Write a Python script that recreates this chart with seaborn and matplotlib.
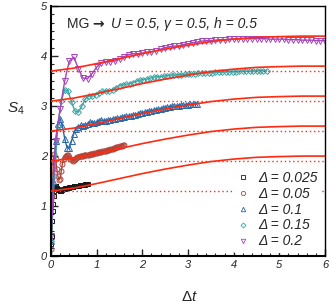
import numpy as np
import pandas as pd
import matplotlib
matplotlib.use("Agg")
import matplotlib.pyplot as plt
import seaborn as sns
from matplotlib.lines import Line2D
from matplotlib.ticker import MultipleLocator, AutoMinorLocator

sns.set_style("ticks")
plt.rcParams['font.family'] = ['Liberation Sans', 'DejaVu Sans']
plt.rcParams['mathtext.fontset'] = 'custom'
plt.rcParams['mathtext.rm'] = 'Liberation Sans'
plt.rcParams['mathtext.it'] = 'Liberation Sans:italic'

# ---------------- data ----------------
deltas = [0.025, 0.05, 0.1, 0.15, 0.2]
labels = ["Δ = 0.025", "Δ = 0.05", "Δ = 0.1", "Δ = 0.15", "Δ = 0.2"]
# time-step index grid (t in units of Δ), step 0.5
steps = np.arange(0, 32.5, 0.5)

s_0025 = [0.25, 0.40, 0.70, 0.90, 1.05, 1.20, 1.30, 1.38, 1.41, 1.40,
          1.37, 1.35, 1.34, 1.33, 1.32, 1.31, 1.30, 1.30, 1.31, 1.32,
          1.33, 1.34, 1.35, 1.35, 1.35, 1.36, 1.36, 1.36, 1.37, 1.37,
          1.37, 1.37, 1.38, 1.38, 1.38, 1.38, 1.39, 1.39, 1.39, 1.39,
          1.40, 1.40, 1.40, 1.40, 1.40, 1.41, 1.41, 1.41, 1.41, 1.41,
          1.42, 1.42, 1.42, 1.42, 1.42, 1.43, 1.43, 1.43, 1.43, 1.43,
          1.44, 1.44, 1.44, 1.44, 1.44]
s_005 = [0.15, 1.20, 1.90, 2.05, 1.95, 1.75, 1.60, 1.52, 1.55, 1.70,
         1.85, 1.95, 1.98, 2.00, 2.02, 2.02, 1.98, 1.94, 1.92, 1.91,
         1.92, 1.95, 1.97, 1.98, 1.99, 2.00, 2.00, 2.01, 2.01, 2.02,
         2.02, 2.03, 2.03, 2.03, 2.04, 2.04, 2.05, 2.05, 2.06, 2.06,
         2.07, 2.08, 2.08, 2.09, 2.09, 2.10, 2.10, 2.11, 2.11, 2.12,
         2.13, 2.13, 2.14, 2.15, 2.15, 2.16, 2.17, 2.18, 2.18, 2.19,
         2.20, 2.20, 2.21, 2.22, 2.22]
s_01 = [0.30, 1.50, 2.30, 2.65, 2.75, 2.60, 2.35, 2.17, 2.16, 2.30,
        2.45, 2.55, 2.59, 2.62, 2.60, 2.62, 2.65, 2.68, 2.67, 2.66,
        2.68, 2.70, 2.72, 2.71, 2.71, 2.72, 2.73, 2.74, 2.75, 2.76,
        2.77, 2.78, 2.79, 2.80, 2.80, 2.81, 2.82, 2.83, 2.85, 2.86,
        2.87, 2.88, 2.89, 2.90, 2.91, 2.92, 2.93, 2.94, 2.95, 2.96,
        2.97, 2.98, 2.99, 3.00, 3.00, 3.01, 3.01, 3.02, 3.02, 3.03,
        3.03, 3.04, 3.04, 3.05, 3.05]
s_015 = [0.30, 1.60, 2.60, 3.10, 3.33, 3.30, 3.08, 2.90, 2.88, 3.00,
         3.14, 3.20, 3.20, 3.22, 3.26, 3.30, 3.31, 3.31, 3.33, 3.37,
         3.41, 3.43, 3.44, 3.45, 3.47, 3.50, 3.52, 3.53, 3.54, 3.56,
         3.58, 3.59, 3.59, 3.60, 3.61, 3.62, 3.62, 3.63, 3.63, 3.64,
         3.64, 3.65, 3.65, 3.66, 3.66, 3.66, 3.67, 3.67, 3.68, 3.68,
         3.68, 3.69, 3.69, 3.69, 3.69, 3.70, 3.70, 3.70, 3.70, 3.71,
         3.71, 3.71, 3.71, 3.71]
s_02 = [0.40, 2.30, 2.95, 3.50, 3.90, 3.98, 3.75, 3.56, 3.55, 3.65,
        3.78, 3.86, 3.88, 3.89, 3.90, 3.94, 3.99, 4.03, 4.05, 4.05,
        4.06, 4.08, 4.09, 4.11, 4.14, 4.17, 4.19, 4.20, 4.21, 4.23,
        4.25, 4.27, 4.28, 4.30, 4.31, 4.31, 4.32, 4.33, 4.33, 4.34,
        4.34, 4.34, 4.35, 4.35, 4.35, 4.35, 4.35, 4.35, 4.34, 4.34,
        4.34, 4.34, 4.33, 4.33, 4.33, 4.32, 4.32, 4.32, 4.31, 4.31,
        4.31]
series = [s_0025, s_005, s_01, s_015, s_02]

# reference curves (solid red) and baselines (dotted red)
offsets = [1.3, 1.9, 2.5, 3.1, 3.7]
ref_t = [0, 0.5, 1.0, 1.5, 2.0, 2.5, 3.0, 3.5, 4.0, 4.5, 5.0, 5.5, 6.0]
ref_rise = [0, 0.06, 0.15, 0.25, 0.35, 0.44, 0.52, 0.59, 0.64, 0.675, 0.69, 0.70, 0.70]

colors = ["#1a1a1a", "#b2453a", "#2a68a8", "#3aa6a6", "#a645b8"]
markers = ["s", "o", "^", "D", "v"]
msizes = [3.4, 3.6, 3.8, 3.0, 3.8]
red = "#ff2a10"

# ---------------- figure ----------------
fig = plt.figure(figsize=(3.32, 3.07), dpi=100)
ax = fig.add_axes([0.1536, 0.166, 0.8254, 0.814])

for d, vals, c, m, ms in zip(deltas, series, colors, markers, msizes):
    df = pd.DataFrame({"x": steps[:len(vals)] * d, "y": vals})
    sns.lineplot(data=df, x="x", y="y", ax=ax, color=c, lw=1.0,
                 marker=m, markersize=ms, markerfacecolor="none",
                 markeredgecolor=c, markeredgewidth=0.7,
                 sort=False, estimator=None, legend=False)

for off in offsets:
    ax.axhline(off, color=red, lw=1.0, ls=(0, (1, 2)), zorder=3)
    dfr = pd.DataFrame({"x": ref_t, "y": [off + r for r in ref_rise]})
    sns.lineplot(data=dfr, x="x", y="y", ax=ax, color=red, lw=1.2,
                 sort=False, estimator=None, legend=False, zorder=4)

ax.set_xlim(0, 6)
ax.set_ylim(0, 5)
ax.xaxis.set_major_locator(MultipleLocator(1))
ax.xaxis.set_minor_locator(AutoMinorLocator(5))
ax.yaxis.set_major_locator(MultipleLocator(1))
ax.yaxis.set_minor_locator(AutoMinorLocator(6))
ax.tick_params(which="both", direction="in", top=False, right=False,
               labelsize=8, pad=3)
ax.tick_params(which="major", length=5, width=1.0)
ax.tick_params(which="minor", length=2.5, width=0.8)
for lab in ax.get_xticklabels() + ax.get_yticklabels():
    lab.set_fontstyle("italic")

for side in ["left", "bottom"]:
    ax.spines[side].set_linewidth(1.5)
for side in ["top", "right"]:
    ax.spines[side].set_linewidth(1.0)
for sp in ax.spines.values():
    sp.set_color("black")

ax.set_xlabel(r"$\Delta t$", fontsize=11)
ax.set_ylabel(r"$S_4$", fontsize=11, rotation=0)
ax.xaxis.set_label_coords(0.507, -0.136)
ax.yaxis.set_label_coords(-0.13, 0.556)

t1 = ax.text(0.057, 0.911, "MG ", transform=ax.transAxes, fontsize=10,
             va="baseline", ha="left")
t2 = ax.annotate("→ ", xy=(1, 0), xycoords=t1, va="bottom", ha="left",
                 fontsize=10, family=["DejaVu Sans"], fontweight="bold")
ax.annotate("U = 0.5, γ = 0.5, h = 0.5", xy=(1, 0), xycoords=t1,
            xytext=(13, 0), textcoords="offset points",
            va="bottom", ha="left", fontsize=10, fontstyle="italic")

handles = [Line2D([], [], ls="none", marker=m, markersize=ms * 0.85, markerfacecolor="none",
                  markeredgecolor=c, markeredgewidth=0.6)
           for c, m, ms in zip(colors, markers, msizes)]
leg = ax.legend(handles, labels, loc="lower right", fontsize=10, frameon=True,
                framealpha=1, facecolor="white", edgecolor="none",
                handlelength=0.8, handletextpad=0.7, labelspacing=0.14,
                borderpad=0.3, borderaxespad=0.25)
for txt in leg.get_texts():
    txt.set_fontstyle("italic")
leg.set_zorder(10)

fig.savefig("out.png", dpi=100)
